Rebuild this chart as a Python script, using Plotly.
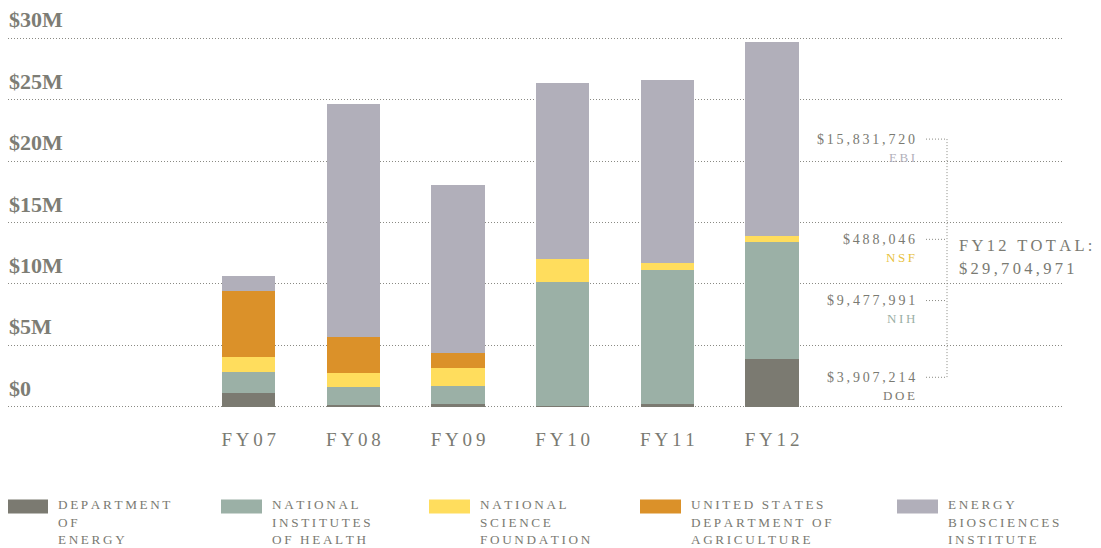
import plotly.graph_objects as go

# ---- data (millions of dollars) ----
years = ["FY07", "FY08", "FY09", "FY10", "FY11", "FY12"]
doe = [1.12, 0.15, 0.20, 0.05, 0.20, 3.907214]
nih = [1.71, 1.45, 1.49, 10.11, 10.94, 9.477991]
nsf = [1.22, 1.15, 1.46, 1.87, 0.57, 0.488046]
usda = [5.38, 2.92, 1.22, 0.0, 0.0, 0.0]
ebi = [1.22, 18.97, 13.68, 14.33, 14.89, 15.831720]

series_lines = [["DEPARTMENT", "OF", "ENERGY"],
                ["NATIONAL", "INSTITUTES", "OF HEALTH"],
                ["NATIONAL", "SCIENCE", "FOUNDATION"],
                ["UNITED STATES", "DEPARTMENT OF", "AGRICULTURE"],
                ["ENERGY", "BIOSCIENCES", "INSTITUTE"]]
series_vals = [doe, nih, nsf, usda, ebi]
colors = ["#7b7a71", "#9bb0a6", "#ffdd5d", "#db9129", "#b1afba"]

ytick_vals = [0, 5, 10, 15, 20, 25, 30]
ytick_text = ["$0", "$5M", "$10M", "$15M", "$20M", "$25M", "$30M"]

fy12_labels = ["$15,831,720", "$488,046", "$9,477,991", "$3,907,214"]
fy12_codes = ["EBI", "NSF", "NIH", "DOE"]
fy12_code_colors = ["#b1afba", "#e8c23f", "#9bb0a6", "#7b7a71"]
fy12_total = "$29,704,971"

TXT = "#7a7a72"
FONT = "Liberation Serif"
TS = "\u2009"


def spaced(s):
    return TS.join(list(s))


fig = go.Figure()
for lines, vals, col in zip(series_lines, series_vals, colors):
    fig.add_trace(go.Bar(x=years, y=vals, name=" ".join(lines),
                         marker=dict(color=col, line=dict(width=0)),
                         width=0.51, showlegend=False))

# plot geometry (page body has an 8px margin)
OFF = 8
W, H = 1093, 540
L, R, T, B = 0, 38, 29, 140
pw, ph = W - L - R, H - T - B


def px_x(px):
    return (px - OFF - L) / pw


def px_y(py):
    return (T + ph - (py - OFF)) / ph


annotations = []
# y-axis labels above gridlines
for v, t in zip(ytick_vals, ytick_text):
    annotations.append(dict(x=0, xref="paper", y=v, yref="y", text="<b>" + t + "</b>",
                            showarrow=False, xanchor="left", yanchor="bottom", yshift=4,
                            xshift=-1,
                            font=dict(family=FONT, size=22, color="#7d7d75")))

# FY12 breakdown labels (pointing at segment midpoints)
fy12_vals = [ebi[5], nsf[5], nih[5], doe[5]]
base = [doe[5] + nih[5] + nsf[5], doe[5] + nih[5], doe[5], 0]
mids = [b + v / 2 for b, v in zip(base, fy12_vals)]
mids[3] = max(mids[3], 2.4)
for lab, code, cc, m in zip(fy12_labels, fy12_codes, fy12_code_colors, mids):
    annotations.append(dict(x=px_x(917), xref="paper", y=m, yref="y", text=spaced(lab),
                            showarrow=False, xanchor="right", yanchor="middle",
                            font=dict(family=FONT, size=14, color=TXT)))
    annotations.append(dict(x=px_x(917), xref="paper", y=m, yref="y", text=spaced(code),
                            showarrow=False, xanchor="right", yanchor="middle", yshift=-18,
                            font=dict(family=FONT, size=13, color=cc)))

annotations.append(dict(x=px_x(957), xref="paper", y=px_y(245), yref="paper",
                        text=spaced("FY12 TOTAL:"),
                        showarrow=False, xanchor="left", yanchor="middle", align="left",
                        font=dict(family=FONT, size=16.5, color=TXT)))
annotations.append(dict(x=px_x(957), xref="paper", y=px_y(268), yref="paper",
                        text=spaced(fy12_total),
                        showarrow=False, xanchor="left", yanchor="middle", align="left",
                        font=dict(family=FONT, size=16.5, color=TXT)))

shapes = []
for m in mids:
    shapes.append(dict(type="line", xref="paper", yref="y", x0=px_x(926), x1=px_x(947),
                       y0=m, y1=m, line=dict(color="#8a8a84", width=1, dash="1px,2px")))
shapes.append(dict(type="line", xref="paper", yref="y", x0=px_x(947), x1=px_x(947),
                   y0=mids[0], y1=mids[3], line=dict(color="#8a8a84", width=1, dash="1px,2px")))

# custom legend
sw_x = [7, 221, 429, 640, 897]
line_y = [504, 522, 539.5]
for sx, lines, col in zip(sw_x, series_lines, colors):
    shapes.append(dict(type="rect", xref="paper", yref="paper",
                       x0=px_x(sx), x1=px_x(sx + 41), y0=px_y(499.5), y1=px_y(513.5),
                       fillcolor=col, line=dict(width=0)))
    for ln, ly in zip(lines, line_y):
        annotations.append(dict(x=px_x(sx + 49), xref="paper", y=px_y(ly), yref="paper",
                                text=spaced(ln), showarrow=False, xanchor="left",
                                yanchor="middle", align="left",
                                font=dict(family=FONT, size=13.2, color=TXT)))

fig.update_layout(
    width=W, height=H,
    margin=dict(l=L, r=R, t=T, b=B, pad=0),
    barmode="stack",
    plot_bgcolor="white", paper_bgcolor="white",
    annotations=annotations, shapes=shapes,
    xaxis=dict(type="category", categoryorder="array", categoryarray=years,
               range=[-2.30, 7.78], showgrid=False, zeroline=False, showline=False,
               ticks="", tickvals=years, ticktext=[spaced(y) for y in years],
               tickfont=dict(family=FONT, size=19, color=TXT), ticklabelstandoff=18),
    yaxis=dict(range=[-0.1, 30.1], tickvals=ytick_vals, showticklabels=False,
               showgrid=True, gridcolor="#8a8a84", gridwidth=1, griddash="1px,2px",
               zeroline=False, showline=False),
)

fig.write_html("out.html")
